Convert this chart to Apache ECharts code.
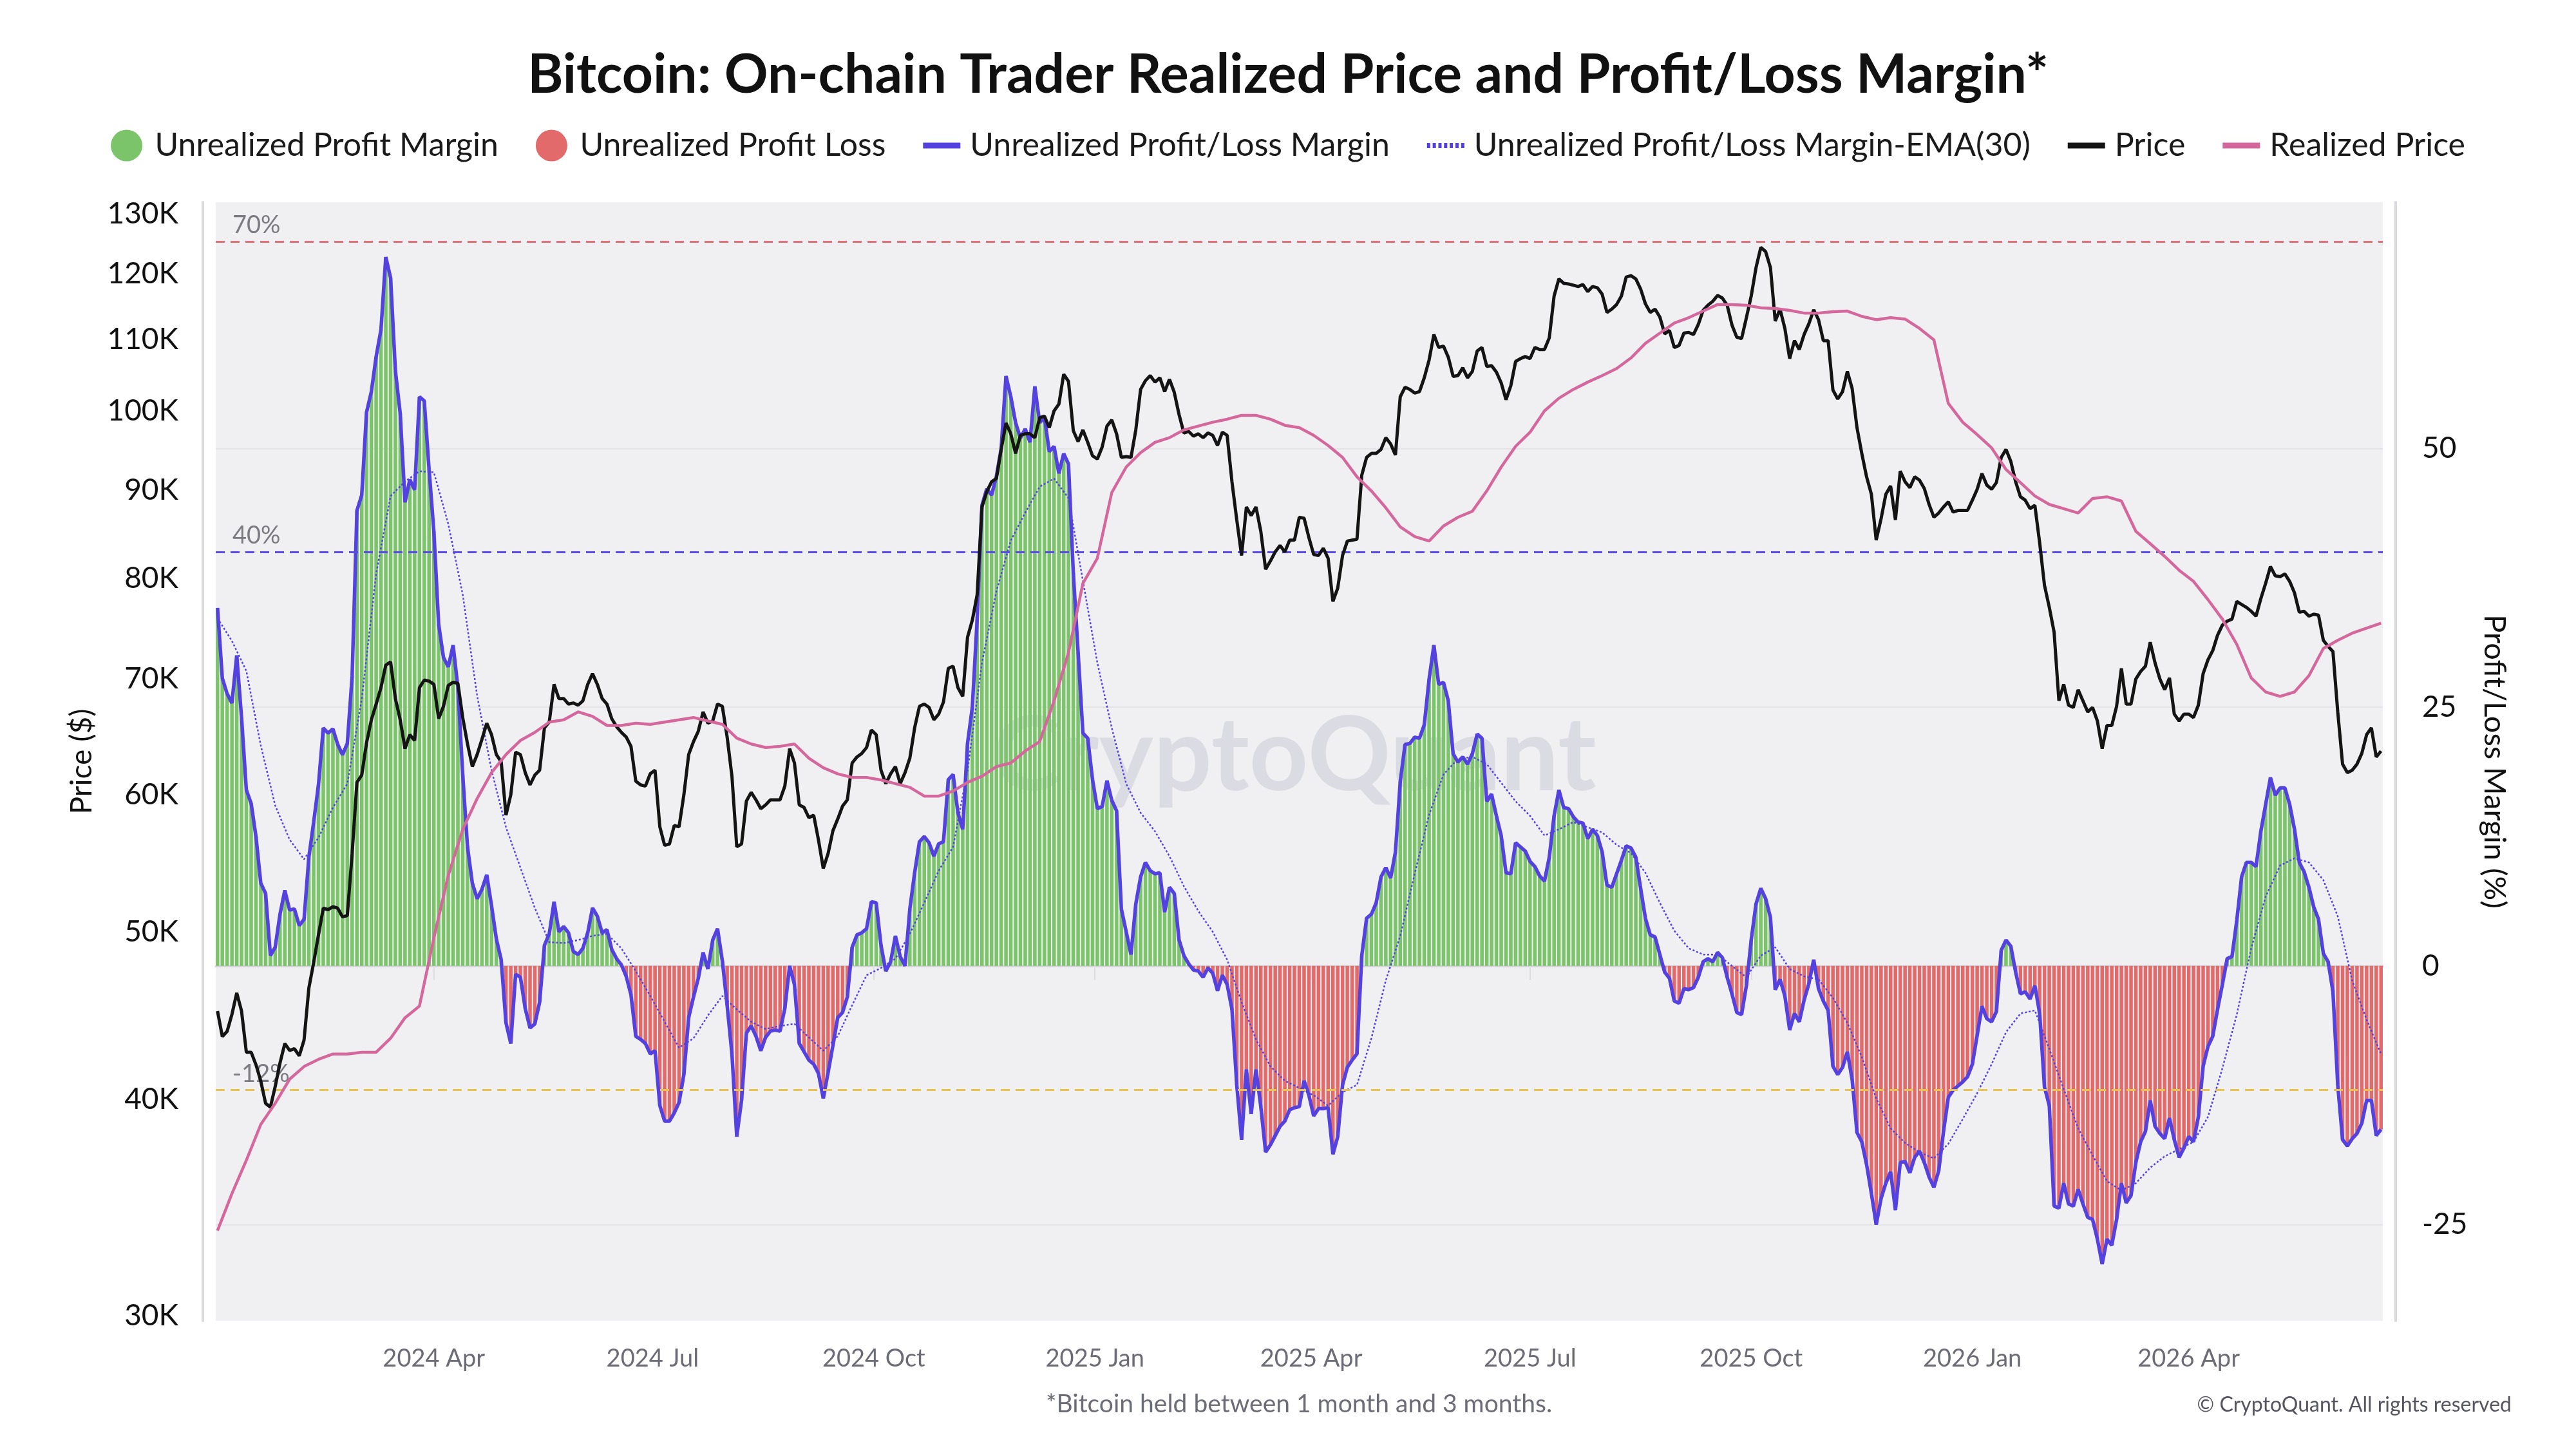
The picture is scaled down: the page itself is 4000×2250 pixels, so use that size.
<!DOCTYPE html>
<html>
<head>
<meta charset="utf-8">
<title>Bitcoin: On-chain Trader Realized Price and Profit/Loss Margin</title>
<script src="https://cdn.jsdelivr.net/npm/echarts@6/dist/echarts.min.js"></script>
<style>
  html, body { margin: 0; padding: 0; background: #fff; }
  #chart { width: 4000px; height: 2250px; }
</style>
</head>
<body>
<div id="chart"></div>
<script>
// all series start on 2024-01-02
// margin and price: one value every 2 days, ema and realized price: every 6 days
var startDate = new Date(2024, 0, 2);
var fastStep = 2;
var slowStep = 6;
var lastDay = 900;

// unrealized profit/loss margin (%)
var margin = [
  34.6, 27.8, 26.3, 25.4, 30, 24, 17, 15.7, 12.5, 8,
  7, 1, 1.8, 5, 7.3, 5.4, 5.5, 3.9, 4.5, 10.5,
  13.9, 17.5, 23, 22.5, 22.9, 21.4, 20.4, 21.5, 28, 44,
  45.5, 53.5, 55.5, 58.9, 61.5, 68.5, 66.5, 57.5, 53.4, 44.8,
  47, 46, 55, 54.6, 48, 42, 33, 29.8, 28.9, 31,
  26.9, 18.5, 11.5, 8, 6.5, 7.4, 8.8, 5.8, 2.6, 0.6,
  -5.5, -7.5, -0.8, -1.1, -4.1, -6, -5.6, -3.5, 2, 3.1,
  6.2, 3.3, 3.8, 3.2, 1.4, 1.1, 1.7, 3.2, 5.6, 4.8,
  3.2, 3.5, 1.6, 0.7, 0.1, -1, -2.8, -6.8, -7.1, -7.5,
  -8.5, -8.2, -13.5, -15, -15, -14.2, -13.2, -10.5, -5, -3,
  -1.2, 1.3, -0.3, 2.5, 3.6, 0.5, -3.8, -8.5, -16.5, -13,
  -6.5, -5.8, -6.8, -8.2, -6.9, -6.3,
  -6.2, -6.3, -4.1, 0, -1.8, -7.5, -8.3, -9.1, -9.5, -10.4,
  -12.8, -10.3, -7.7, -5, -4.5, -3, 1.8, 3, 3.2, 3.6,
  6.2, 6.1, 2, -0.5, 0.4, 2.9, 0.9, 0, 5.5, 9,
  12, 12.5, 11.9, 10.6, 11.8, 12, 18, 18.5, 14.8, 13.2,
  21.5, 25, 33.5, 44.5, 46.1, 45.5, 47.3, 50, 57, 55,
  52.5, 51, 51.9, 50.6, 56, 52.5, 53, 49.7, 50.2, 47.6,
  49.5, 48.5, 38, 30.3, 22.5, 22, 18, 15.2, 15.4, 17.9,
  16, 15, 5.5, 3.3, 1.1, 6, 8.6, 10, 9.2, 8.9,
  9, 5.2, 7.6, 7, 2.5, 1, 0.2, -0.4, -0.5, -1.1,
  -0.2, -0.7, -2.4, -0.9, -1.8, -4.2, -11.5, -16.8, -10, -14.3,
  -10, -13.6, -18, -17.3, -16.4, -15.5, -15, -13.9, -13.7, -13.6,
  -11.1, -12.5, -14.5, -13.8, -13.8, -13.7, -18.2, -16.5, -11.5, -9.8,
  -9.1, -8.5,
  1, 4.6, 5, 6.1, 8.6, 9.5, 8.5, 11, 17.8, 21.4,
  21.5, 22.1, 22, 23.3, 27.7, 31, 27.2, 27.4, 25.6, 20.5,
  19.7, 20.2, 19.5, 20.5, 22.4, 22, 15.9, 16.6, 14.5, 12.6,
  9, 8.9, 11.9, 11.5, 11.1, 10.1, 9.6, 8.7, 8.2, 10.5,
  14.5, 17, 15.3, 15.2, 14.4, 13.9, 13.8, 12.3, 13.2, 12.6,
  11, 7.8, 7.6, 8.9, 10.2, 11.6, 11.4, 10.5, 7.5, 4.6,
  3, 2.8, 1.1, -0.6, -1.2, -3.4, -3.6, -2.2, -2.3, -2.1,
  -1.1, 0.4, 0.7, 0.4, 1.3, 0.8, -1.1, -2.7, -4.5, -4.7,
  -1.9, 2.5, 6, 7.5, 6.5, 4.7, -2.3, -1.3, -2.9, -6.2,
  -4.6, -5.4, -3.3, -1.7, 0.6, -2.2, -3.4, -4.3, -9.7,
  -10.5, -9.8, -8.3, -11, -16.1, -17, -19.2, -22, -25, -22.5,
  -21, -19.9, -23.6, -19, -18.9, -20, -18.5, -17.9, -19, -20.4,
  -21.4, -19.8, -16, -12.7, -12, -11.6, -11.2, -10.7, -9.5, -6.7,
  -3.9, -5.1, -5.4, -4.4, 1.5, 2.5, 1.9, -0.6, -2.7, -2.5,
  -3.2, -1.9, -4.6, -11.7, -13.5, -23.2, -23.4, -21, -23, -23.2,
  -21.6, -23, -24.3, -24.5, -26.4, -28.8, -26.4, -27, -24.5, -21,
  -22.9, -22.2, -19, -17, -16, -13, -15.5, -16.2, -16.7, -14.7,
  -16.8, -18.5, -17.6, -16.5, -17, -14.6, -9.7, -7.8, -6.8, -4.2,
  -1.8, 0.7, 0.9, 4.4, 8.6, 10, 10, 9.6, 13, 15.6,
  18.2, 16.5, 17.2, 17.2, 15.6, 13.2, 10, 9.1, 7.6, 5.7,
  4.5, 1.2, 0.4, -2.5, -11.5, -16.8, -17.4, -16.7, -16.2, -15.2,
  -13, -13, -16.4, -15.8
];

// bitcoin price (thousand USD)
var price = [
  45.0, 43.5, 43.8, 44.8, 46.1, 45.0, 42.6, 42.6, 41.9, 41.0,
  39.8, 39.6, 40.7, 42.0, 43.1, 42.7, 42.8, 42.4, 43.3, 46.4,
  48.0, 49.8, 51.6, 51.5, 51.7, 51.6, 51.0, 51.1, 55.5, 61.0,
  61.6, 64.3, 66.3, 67.7, 69.2, 71.3, 71.6, 68.2, 66.3, 63.8,
  65.0, 64.5, 69.2, 69.9, 69.8, 69.5, 66.4, 67.5, 69.4, 69.7,
  69.6, 66.5, 64.2, 62.3, 63.3, 64.6, 66.0, 65.0, 63.3, 62.7,
  58.4, 60.0, 63.5, 63.3, 61.8, 60.8, 61.6, 62.0, 65.6, 66.1,
  69.5, 68.2, 68.2, 67.7, 67.8, 67.6, 68.0, 69.5, 70.5, 69.5,
  68.2, 67.7, 66.4, 65.7, 65.2, 64.8, 64.0, 61.1, 60.8, 60.7,
  61.7, 62.0, 57.5, 56.1, 56.2, 57.6, 57.5, 60.0, 63.3, 64.4,
  65.3, 67.0, 66.0, 66.2, 67.7, 67.5, 64.8, 61.5, 56.0, 56.2,
  59.5, 60.2, 59.6, 58.9, 59.2, 59.6,
  59.6, 59.6, 60.7, 63.8, 62.6, 59.2, 59.0, 58.2, 58.4, 56.5,
  54.4, 55.5, 57.2, 58.1, 59.1, 59.6, 62.6, 63.1, 63.4, 63.9,
  65.4, 65.0, 62.0, 60.9, 61.7, 62.3, 60.9, 61.8, 63.0, 65.6,
  67.5, 67.7, 67.4, 66.3, 66.8, 67.9, 71.0, 71.2, 69.2, 68.4,
  74.0, 75.7, 78.3, 88.0, 89.8, 91.0, 91.4, 95.0, 98.4, 97.0,
  94.5, 96.8, 97.0, 97.0, 96.5, 99.1, 99.3, 97.8, 100.0, 100.9,
  105.0, 104.0, 97.4, 96.0, 97.5, 95.9, 94.2, 93.8, 95.3, 98.0,
  98.8, 97.0, 94.0, 94.1, 94.0, 97.5, 102.9, 104.1, 104.8, 103.9,
  104.5, 102.6, 104.3, 102.5, 99.5, 97.1, 97.3, 96.7, 97.0, 96.5,
  97.1, 96.8, 95.5, 97.2, 96.8, 91.0, 86.5, 82.5, 88.0, 87.0,
  88.0, 85.2, 81.0, 81.9, 82.9, 83.6, 82.9, 84.2, 84.2, 86.8,
  86.7, 84.5, 82.6, 82.5, 83.3, 82.2, 77.6, 79.0, 82.5, 84.1,
  84.2, 84.3,
  91.8, 94.0, 94.5, 94.5, 95.0, 96.5, 95.7, 94.3, 101.9, 103.2,
  102.9, 102.4, 102.6, 104.5, 107.0, 110.7, 108.8, 109.0, 107.4, 104.7,
  104.8, 105.9, 104.5, 105.4, 108.3, 108.8, 106.1, 106.2, 105.3, 103.8,
  101.5, 103.4, 106.8, 107.2, 107.5, 107.2, 108.8, 108.5, 108.5, 110.2,
  116.5, 119.2, 118.5, 118.4, 118.2, 118.0, 118.3, 117.2, 118.0, 117.8,
  116.8, 114.0, 114.5, 115.2, 116.5, 119.5, 119.7, 119.2, 117.6, 115.3,
  114.0, 114.5, 113.3, 110.8, 111.3, 108.8, 109.1, 110.9, 111.0, 110.7,
  112.2, 114.3, 115.1, 115.7, 116.6, 116.2, 115.1, 112.1, 110.3, 110.1,
  113.2, 116.5, 121.0, 124.3, 123.6, 121.0, 112.7, 114.5, 111.6, 107.2,
  109.8, 108.5, 110.7, 112.3, 114.4, 112.9, 109.8, 109.8, 102.8,
  101.6, 102.6, 105.4, 103.0, 97.8, 94.5, 91.6, 89.5, 84.2, 86.6,
  89.5, 90.5, 86.5, 92.3, 91.0, 90.3, 91.6, 91.2, 90.2, 88.3,
  86.8, 87.3, 88.0, 88.6, 87.4, 87.6, 87.6, 87.6, 88.8, 90.1,
  92.0, 90.6, 90.1, 90.9, 94.0, 95.0, 93.5, 91.0, 89.2, 88.8,
  87.8, 88.2, 83.9, 79.3, 77.0, 74.5, 68.0, 69.5, 67.6, 67.4,
  69.0, 68.0, 67.0, 67.4, 66.2, 63.8, 65.8, 65.8, 67.5, 71.0,
  67.7, 67.7, 70.0, 70.7, 71.2, 73.5, 71.5, 70.0, 69.0, 70.1,
  66.8, 66.2, 66.8, 66.8, 66.5, 67.6, 70.5, 71.8, 72.7, 74.2,
  75.2, 75.6, 75.8, 77.6, 77.3, 77.0, 76.6, 76.1, 77.9, 79.5,
  81.3, 80.3, 80.2, 80.5, 79.7, 78.5, 76.5, 76.6, 76.1, 76.3,
  76.2, 73.7, 73.1, 72.6, 67.0, 62.5, 61.8, 62.0, 62.5, 63.4,
  65.0, 65.6, 63.1, 63.6
];

// 30-day EMA of the margin (%), every 6 days
var ema30 = [
  33.6, 31.4, 28.5, 21.3, 15.5, 12.2, 10.3, 12.4, 15.3, 17.6,
  25.8, 37.9, 45.4, 46.8, 47.8, 47.7, 42.7, 35.9, 26.1, 18.9,
  13.4, 9.5, 5.6, 2.3, 2.2, 2.5, 2.9, 3.1, 1.7, -0.5,
  -2.9, -5.4, -7.9, -7.0, -4.8, -2.9, -4.2, -5.4, -6.1,
  -5.8, -5.6, -6.9, -8.2, -6.8, -3.8, -0.9, -0.2, 0.7, 3.1,
  6.1, 9.2, 11.5, 18.9, 29.3, 36.2, 41.1, 43.8, 46.3, 47.1,
  45.2, 37.2, 29.3, 23.0, 17.6, 14.8, 13.0, 10.6, 7.7, 5.3,
  3.3, 0.6, -3.5, -7.1, -9.7, -11.1, -11.8, -12.5, -13.5, -12.2,
  -11.5, -7.0, -1.4, 2.9, 8.9, 14.6, 18.5, 20.0, 20.2, 19.5,
  17.7, 15.9, 14.5, 12.6, 13.2, 13.9, 13.4, 12.9, 11.7, 10.9,
  9.0, 6.1, 3.4, 1.7, 1.1, 1.1, 0.0, -1.1, 1.0, 1.8,
  -0.3, -1.0, -1.3, -3.1, -5.5, -8.8,
  -12.8, -15.7, -17.1, -18.0, -18.6, -17.2, -14.8, -12.3, -9.5, -6.4,
  -4.6, -4.3, -8.0, -11.9, -15.7, -18.3, -20.8, -21.7, -21.0, -19.5,
  -18.4, -17.7, -17.0, -14.6, -9.9, -4.7, 1.7, 6.7, 9.7, 10.4,
  10.0, 8.3, 4.8, -1.4, -5.2, -8.5
];

// on-chain trader realized price (thousand USD), every 6 days
var realized = [
  33.6, 35.3, 36.9, 38.7, 39.8, 41.1, 41.8, 42.2, 42.5, 42.5,
  42.6, 42.6, 43.4, 44.6, 45.3, 49.6, 53.9, 57.3, 59.7, 61.8,
  63.3, 64.5, 65.2, 66.1, 66.3, 67.0, 66.6, 65.8, 65.8, 66.0,
  65.9, 66.1, 66.3, 66.5, 66.2, 65.9, 64.7, 64.2, 63.9, 64.0,
  64.2, 63.0, 62.2, 61.7, 61.4, 61.4, 61.2, 60.9, 60.6, 59.9,
  59.9, 60.3, 61.0, 61.5, 62.3, 62.6, 63.6, 64.4, 68.0, 72.5,
  79.5, 82.2, 89.7, 92.8, 94.6, 95.9, 96.5, 97.5, 98.0, 98.5,
  98.9, 99.4, 99.4, 98.9, 98.1, 97.8, 96.8, 95.5, 94.0, 91.6,
  89.9, 87.9, 85.7, 84.6, 84.1, 85.8, 86.8, 87.5, 89.9, 92.8,
  95.4, 97.2, 100.0, 101.7, 102.9, 103.9, 104.8, 105.8, 107.3, 109.4,
  110.9, 112.4, 113.2, 114.2, 115.2, 115.2, 115.1, 114.7, 114.6, 114.3,
  113.9, 113.9, 114.1, 114.2, 113.4, 112.9, 113.2, 113.0, 111.6, 109.9,
  101.0, 98.5, 96.9, 95.2, 92.5, 90.9, 89.3, 88.3, 87.8, 87.3,
  89.0, 89.2, 88.7, 85.2, 83.8, 82.4, 80.9, 79.7, 77.8, 75.8,
  73.3, 70.1, 68.8, 68.4, 68.8, 70.3, 72.9, 73.7, 74.4, 74.9,
  75.4
];

var priceTicks = [30, 40, 50, 60, 70, 80, 90, 100, 110, 120, 130];
var marginTicks = [-25, 0, 25, 50];
var monthNames = ['Jan', 'Feb', 'Mar', 'Apr', 'May', 'Jun', 'Jul', 'Aug', 'Sep', 'Oct', 'Nov', 'Dec'];
var DAY = 24 * 3600 * 1000;

var font = 'Lato';
// legend glyphs: a short thick bar and a dotted bar
var solidIcon = 'path://M0,0H58V9H0Z';
var dottedIcon = 'path://M0,0H5V8H0ZM8.8,0H13.8V8H8.8ZM17.6,0H22.6V8H17.6ZM26.4,0H31.4V8H26.4ZM35.2,0H40.2V8H35.2ZM44,0H49V8H44ZM52.8,0H57.8V8H52.8Z';

function dayTime(d) {
  return new Date(startDate.getFullYear(), startDate.getMonth(), startDate.getDate() + d).getTime();
}
function toPairs(values, step) {
  return values.map(function (v, i) { return [dayTime(i * step), v]; });
}

var marginPairs = toPairs(margin, fastStep);
var profitBars = marginPairs.filter(function (p) { return p[1] >= 0; });
var lossBars = marginPairs.filter(function (p) { return p[1] < 0; });

var dom = document.getElementById('chart');
var myChart = echarts.init(dom);
var option = {
  animation: false,
  backgroundColor: '#ffffff',
  title: {
    text: 'Bitcoin: On-chain Trader Realized Price and Profit/Loss Margin*',
    left: 'center',
    top: 70,
    textStyle: { fontFamily: font, fontWeight: 'bold', fontSize: 84, color: '#111111' }
  },
  legend: {
    top: 196,
    left: 'center',
    itemWidth: 58,
    itemHeight: 49,
    itemGap: 58,
    symbolKeepAspect: true,
    textStyle: { fontFamily: font, fontSize: 50, color: '#1a1a1a', padding: [0, 0, 0, 10] },
    data: [
      { name: 'Unrealized Profit Margin', icon: 'circle' },
      { name: 'Unrealized Profit Loss', icon: 'circle' },
      { name: 'Unrealized Profit/Loss Margin', icon: solidIcon },
      { name: 'Unrealized Profit/Loss Margin-EMA(30)', icon: dottedIcon },
      { name: 'Price', icon: solidIcon },
      { name: 'Realized Price', icon: solidIcon }
    ]
  },
  grid: {
    left: 335,
    right: 300,
    top: 314,
    bottom: 199,
    show: true,
    backgroundColor: '#f0f0f3',
    borderWidth: 0
  },
  xAxis: {
    type: 'time',
    min: dayTime(0),
    max: dayTime(lastDay),
    splitNumber: 10,
    minInterval: 85 * DAY,
    maxInterval: 95 * DAY,
    axisLine: { lineStyle: { color: '#d2d2d8', width: 3 } },
    axisTick: { show: true, length: 22, lineStyle: { color: '#dcdce1', width: 2 } },
    axisLabel: {
      margin: 40,
      fontFamily: font,
      fontSize: 38,
      color: '#6c6c76',
      hideOverlap: false,
      formatter: function (v) {
        var d = new Date(v);
        return d.getFullYear() + ' ' + monthNames[d.getMonth()];
      }
    },
    splitLine: { show: false }
  },
  yAxis: [
    {
      type: 'log',
      position: 'left',
      offset: 20,
      min: 29.8,
      max: 132,
      name: 'Price ($)',
      nameLocation: 'middle',
      nameGap: 165,
      nameTextStyle: { fontFamily: font, fontSize: 46, color: '#111111' },
      axisLine: { show: true, lineStyle: { color: '#d9d9de', width: 4 } },
      axisTick: { show: false },
      splitLine: { show: false },
      axisLabel: {
        customValues: priceTicks,
        margin: 38,
        fontFamily: font,
        fontSize: 46,
        color: '#111111',
        formatter: function (v) { return Math.round(v) + 'K'; }
      }
    },
    {
      type: 'value',
      position: 'right',
      offset: 20,
      min: -34.3,
      max: 73.8,
      name: 'Profit/Loss Margin (%)',
      nameLocation: 'middle',
      nameRotate: -90,
      nameGap: 130,
      nameTextStyle: { fontFamily: font, fontSize: 47, color: '#111111' },
      axisLine: { show: true, lineStyle: { color: '#d9d9de', width: 4 } },
      axisTick: { show: false, customValues: marginTicks },
      splitLine: { show: true, lineStyle: { color: '#e3e3e8', width: 2 } },
      axisLabel: {
        customValues: marginTicks,
        margin: 41,
        fontFamily: font,
        fontSize: 46,
        color: '#111111'
      }
    }
  ],
  graphic: [
    {
      type: 'text',
      z: 1,
      x: 2010,
      y: 1175,
      silent: true,
      style: {
        text: 'CryptoQuant',
        fontFamily: font,
        fontWeight: 'bold',
        fontSize: 160,
        fill: 'rgba(190, 190, 205, 0.42)',
        align: 'center',
        verticalAlign: 'middle'
      }
    },
    {
      type: 'text',
      x: 2017,
      y: 2180,
      style: {
        text: '*Bitcoin held between 1 month and 3 months.',
        fontFamily: font,
        fontSize: 39,
        fill: '#6c6c76',
        align: 'center',
        verticalAlign: 'middle'
      }
    },
    {
      type: 'text',
      x: 3900,
      y: 2182,
      style: {
        text: '\u00a9 CryptoQuant. All rights reserved',
        fontFamily: font,
        fontSize: 32,
        fill: '#555560',
        align: 'right',
        verticalAlign: 'middle'
      }
    }
  ],
  series: [
    {
      name: 'Unrealized Profit Margin',
      type: 'bar',
      yAxisIndex: 1,
      barWidth: 5.5,
      barGap: '-100%',
      itemStyle: { color: '#7bc46a' },
      z: 2,
      data: profitBars
    },
    {
      name: 'Unrealized Profit Loss',
      type: 'bar',
      yAxisIndex: 1,
      barWidth: 5.5,
      barGap: '-100%',
      itemStyle: { color: '#e26a6a' },
      z: 2,
      data: lossBars
    },
    {
      name: 'Unrealized Profit/Loss Margin',
      type: 'line',
      yAxisIndex: 1,
      symbol: 'none',
      lineStyle: { color: '#5442e0', width: 5.5 },
      itemStyle: { color: '#5442e0' },
      z: 4,
      data: marginPairs,
      markLine: {
        silent: true,
        symbol: 'none',
        lineStyle: { type: [14, 9], width: 3 },
        label: {
          position: 'insideStartTop',
          distance: [26, 6],
          fontFamily: font,
          fontSize: 38,
          color: '#7a7a80'
        },
        data: [
          { yAxis: 70, lineStyle: { color: '#e0707a' }, label: { formatter: '70%' } },
          { yAxis: 40, lineStyle: { color: '#5a4ae6' }, label: { formatter: '40%' } },
          { yAxis: -12, lineStyle: { color: '#e8c44e' }, label: { formatter: '-12%' } }
        ]
      }
    },
    {
      name: 'Unrealized Profit/Loss Margin-EMA(30)',
      type: 'line',
      yAxisIndex: 1,
      symbol: 'none',
      lineStyle: { color: '#5442e0', width: 2.5, type: [3, 3] },
      itemStyle: { color: '#5442e0' },
      z: 4,
      data: toPairs(ema30, slowStep)
    },
    {
      name: 'Price',
      type: 'line',
      yAxisIndex: 0,
      symbol: 'none',
      lineStyle: { color: '#141414', width: 5 },
      itemStyle: { color: '#141414' },
      z: 5,
      data: toPairs(price, fastStep)
    },
    {
      name: 'Realized Price',
      type: 'line',
      yAxisIndex: 0,
      symbol: 'none',
      lineStyle: { color: '#d4679c', width: 4.5 },
      itemStyle: { color: '#d4679c' },
      z: 5,
      data: toPairs(realized, slowStep)
    }
  ]
};
if (option && typeof option === 'object') {
  myChart.setOption(option, true);
}
</script>
</body>
</html>
